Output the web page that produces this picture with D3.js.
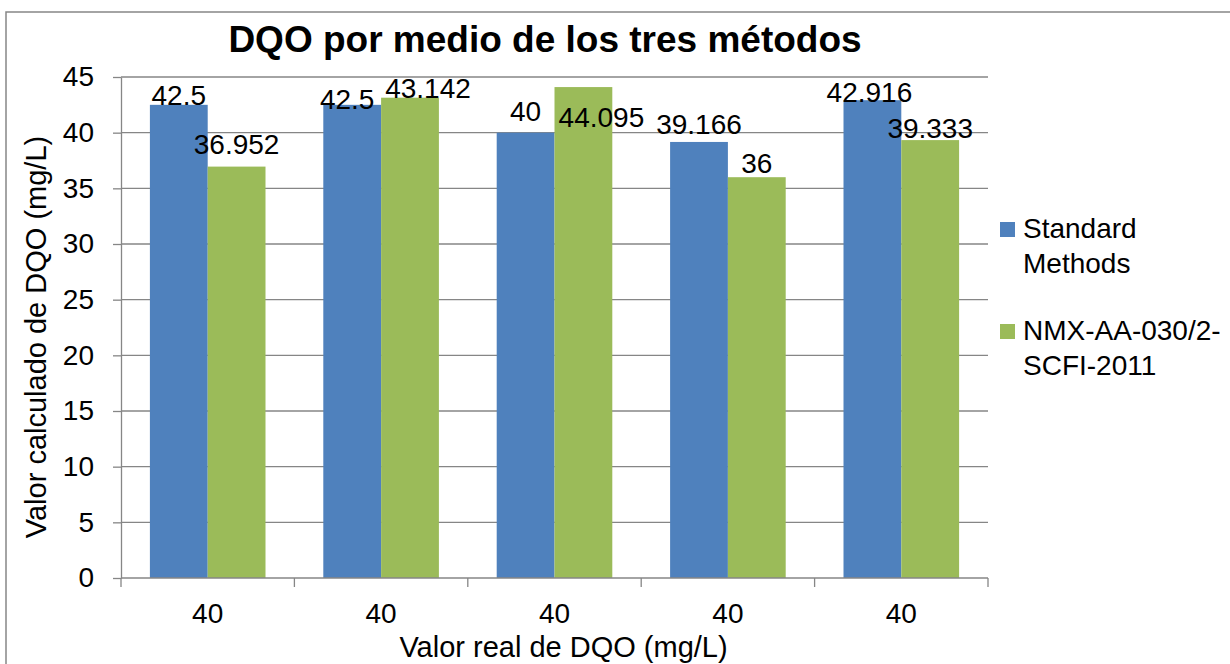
<!DOCTYPE html>
<html>
<head>
<meta charset="utf-8">
<script src="https://cdn.jsdelivr.net/npm/d3@7"></script>
<style>
  body { margin: 0; background: #fff; }
  svg text { font-family: "Liberation Sans", Arial, sans-serif; fill: #000; }
</style>
</head>
<body>
<div id="chart"></div>
<script>
var categories = ["40", "40", "40", "40", "40"];
var seriesNames = ["Standard Methods", "NMX-AA-030/2-SCFI-2011"];
var standardMethods = [42.5, 42.5, 40, 39.166, 42.916];
var nmx = [36.952, 43.142, 44.095, 36, 39.333];
var yTicks = [0, 5, 10, 15, 20, 25, 30, 35, 40, 45];

var colors = ["#4F81BD", "#9BBB59"];
// hand placed label nudges seen in the original (dx, dy from bar top)
var labelNudge = [
  [[0, 0], [-5, 4], [0, -12], [0, -8], [-3, 2]],
  [[0, -13], [18, 0], [18, 40], [0, -4], [0, -2]]
];

var width = 1230, height = 664;
var margin = {top: 77, right: 242, bottom: 86, left: 121};

var svg = d3.select("#chart")
  .append("svg")
  .attr("width", width)
  .attr("height", height);

// outer chart border
svg.append("rect")
  .attr("x", 6).attr("y", 12)
  .attr("width", width + 10).attr("height", height + 10)
  .attr("fill", "none")
  .attr("stroke", "#868686")
  .attr("stroke-width", 1.5);

var idx = d3.range(categories.length);

var x0 = d3.scaleBand()
  .domain(idx)
  .range([margin.left, width - margin.right])
  .paddingInner(1 / 3)
  .paddingOuter(1 / 6);

var x1 = d3.scaleBand()
  .domain([0, 1])
  .range([0, x0.bandwidth()]);

var xEdge = d3.scaleLinear()
  .domain([0, categories.length])
  .range([margin.left, width - margin.right]);

var y = d3.scaleLinear()
  .domain([0, 45])
  .range([height - margin.bottom, margin.top]);

var gray = "#868686";

// gridlines
svg.append("g")
  .selectAll("line")
  .data(yTicks.filter(function(d) { return d > 0; }))
  .enter()
  .append("line")
    .attr("x1", margin.left)
    .attr("x2", width - margin.right)
    .attr("y1", function(d) { return y(d); })
    .attr("y2", function(d) { return y(d); })
    .attr("stroke", gray)
    .attr("stroke-width", 1.3);

// y axis
var yAxis = svg.append("g")
  .attr("transform", `translate(${margin.left},0)`)
  .call(d3.axisLeft(y).tickValues(yTicks).tickSize(8).tickSizeOuter(0).tickPadding(19));
yAxis.select(".domain").attr("stroke", gray).attr("stroke-width", 1.3);
yAxis.selectAll(".tick line").attr("stroke", gray).attr("stroke-width", 1.3);
yAxis.selectAll(".tick text")
  .style("font-family", "'Liberation Sans', Arial, sans-serif")
  .attr("font-size", 28)
  .attr("fill", "#000");

// bars
var series = [standardMethods, nmx];
series.forEach(function(vals, s) {
  svg.append("g")
    .selectAll("rect")
    .data(vals)
    .enter()
    .append("rect")
      .attr("x", function(d, i) { return x0(i) + x1(s); })
      .attr("y", function(d) { return y(d); })
      .attr("width", x1.bandwidth())
      .attr("height", function(d) { return y(0) - y(d); })
      .attr("fill", colors[s]);
});

// x axis
var xBase = y(0);
svg.append("line")
  .attr("x1", margin.left).attr("x2", width - margin.right)
  .attr("y1", xBase).attr("y2", xBase)
  .attr("stroke", gray).attr("stroke-width", 1.3);
svg.append("g")
  .selectAll("line")
  .data(d3.range(categories.length + 1))
  .enter()
  .append("line")
    .attr("x1", function(d) { return xEdge(d); })
    .attr("x2", function(d) { return xEdge(d); })
    .attr("y1", xBase)
    .attr("y2", xBase + 9)
    .attr("stroke", gray)
    .attr("stroke-width", 1.3);

var xAxis = svg.append("g")
  .attr("transform", `translate(0,${xBase})`)
  .call(d3.axisBottom(x0).tickSize(0).tickPadding(25)
    .tickFormat(function(i) { return categories[i]; }));
xAxis.select(".domain").remove();
xAxis.selectAll(".tick text")
  .style("font-family", "'Liberation Sans', Arial, sans-serif")
  .attr("font-size", 28)
  .attr("fill", "#000");

// data labels
series.forEach(function(vals, s) {
  svg.append("g")
    .selectAll("text")
    .data(vals)
    .enter()
    .append("text")
      .attr("x", function(d, i) { return x0(i) + x1(s) + x1.bandwidth() / 2 + labelNudge[s][i][0]; })
      .attr("y", function(d, i) { return y(d) + labelNudge[s][i][1]; })
      .attr("text-anchor", "middle")
      .attr("font-size", 28)
      .text(function(d) { return d; });
});

// title
svg.append("text")
  .attr("x", 545)
  .attr("y", 52)
  .attr("text-anchor", "middle")
  .attr("font-size", 37)
  .attr("font-weight", "bold")
  .text("DQO por medio de los tres métodos");

// axis titles
svg.append("text")
  .attr("x", (margin.left + width - margin.right) / 2 + 9)
  .attr("y", 657)
  .attr("text-anchor", "middle")
  .attr("font-size", 29)
  .text("Valor real de DQO (mg/L)");

svg.append("text")
  .attr("transform", "rotate(-90)")
  .attr("x", -337)
  .attr("y", 46)
  .attr("text-anchor", "middle")
  .attr("font-size", 29)
  .text("Valor calculado de DQO (mg/L)");

// legend
var legendLines = [["Standard", "Methods"], ["NMX-AA-030/2-", "SCFI-2011"]];
var legend = svg.append("g").attr("transform", "translate(1000,222)");
legendLines.forEach(function(lines, s) {
  var g = legend.append("g").attr("transform", `translate(0,${s * 102})`);
  g.append("rect")
    .attr("width", 15).attr("height", 15)
    .attr("fill", colors[s]);
  lines.forEach(function(t, k) {
    g.append("text")
      .attr("x", 23)
      .attr("y", 16 + k * 35)
      .attr("font-size", 28)
      .text(t);
  });
});
</script>
</body>
</html>
